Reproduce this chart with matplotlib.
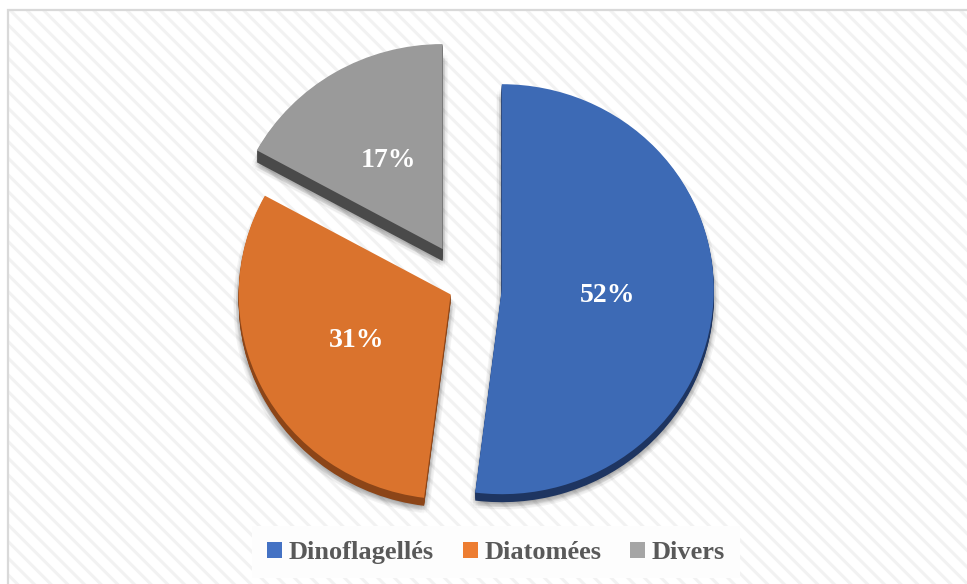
import numpy as np
import matplotlib
matplotlib.use('Agg')
import matplotlib.pyplot as plt
import matplotlib.patches as mpatches
import matplotlib.patheffects as pe
from matplotlib.font_manager import FontProperties

# phytoplankton composition
groups = ['Dinoflagellés', 'Diatomées', 'Divers']
shares = [52, 31, 17]
explode = [0.17, 0.08, 0.215]

top_colors = ['#3d6ab5', '#da732d', '#9a9a9a']
side_colors = ['#1e3561', '#8c4518', '#4a4a4a']
legend_colors = ['#4472c4', '#ed7d31', '#a5a5a5']
side_depth = [8, 8, 12]   # pixels

plt.rcParams['font.family'] = ['Liberation Serif', 'DejaVu Serif']
plt.rcParams['hatch.linewidth'] = 2.2

W, H = 967, 584
fig = plt.figure(figsize=(W / 100, H / 100), dpi=100)

# striped background inside a light frame
bg = mpatches.Rectangle((8 / W, -0.02), 1.05, (H - 10) / H + 0.02, transform=fig.transFigure,
                        facecolor='white', edgecolor='#f2f2f2', linewidth=0,
                        hatch='\\\\', zorder=-3)
frame = mpatches.Rectangle((8 / W, -0.02), 1.05, (H - 10) / H + 0.02, transform=fig.transFigure,
                           facecolor='none', edgecolor='#d9d9d9', linewidth=1.6, zorder=-2)
fig.patches.extend([bg, frame])

ax = fig.add_axes([0, 0, 1, 1])
ax.patch.set_visible(False)

wedges, texts, autotexts = ax.pie(
    shares, explode=explode, colors=top_colors, startangle=90, counterclock=False,
    autopct='%.0f%%', pctdistance=0.5,
    textprops=dict(color='white', fontsize=20, fontweight='bold'))
for w in wedges:
    w.set_zorder(5)
for t in autotexts:
    t.set_zorder(6)

# pixel scale of the pie
sx, sy = 212.0, 205.0
cx, cy = 465.8, 287.0
ax.set_aspect('auto')
ax.set_xlim(-cx / sx, (W - cx) / sx)
ax.set_ylim(-(H - cy) / sy, cy / sy)
ax.axis('off')

# extruded sides plus a soft drop shadow
halo = []
for ang in np.linspace(0, 2 * np.pi, 12, endpoint=False):
    for rad in (2.0, 4.0):
        halo.append(pe.SimplePatchShadow(offset=(rad * np.cos(ang), rad * np.sin(ang) - 1.5),
                                         shadow_rgbFace='black', alpha=0.025))
for w, col, depth in zip(wedges, side_colors, side_depth):
    x0, y0 = w.center
    for k in range(1, depth + 1):
        s = mpatches.Wedge((x0, y0 - k / sy), w.r, w.theta1, w.theta2,
                           facecolor=col, edgecolor='none', zorder=4)
        if k == depth:
            s.set_path_effects(halo + [pe.Normal()])
            s.set_zorder(3)
        ax.add_patch(s)

legend_font = FontProperties(family='Liberation Serif', weight='bold', size=19)
handles = [mpatches.Patch(facecolor=c, edgecolor='none') for c in legend_colors]
leg = fig.legend(handles, groups, loc='center', bbox_to_anchor=(0.513, 0.054), ncol=3,
                 frameon=True, fancybox=False, facecolor='#fdfdfd', edgecolor='none', framealpha=1,
                 handlelength=0.57, handleheight=0.57, handletextpad=0.25, columnspacing=1.1,
                 borderpad=0.55, prop=legend_font)
for t in leg.get_texts():
    t.set_color('#595959')

plt.savefig('out.png', dpi=100)
